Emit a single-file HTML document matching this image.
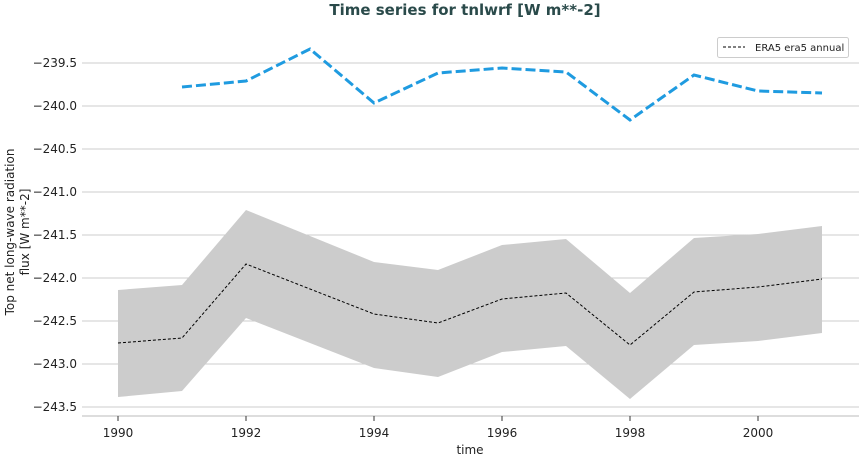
<!DOCTYPE html>
<html><head><style>body{margin:0;background:#fff}svg{display:block}text{font-family:"DejaVu Sans","Liberation Sans",sans-serif}</style></head><body>
<svg width="859" height="457" viewBox="0 0 859 457">
<text x="465" y="15" text-anchor="middle" font-size="15" font-weight="bold" fill="#2a4a4a">Time series for tnlwrf [W m**-2]</text>
<g stroke="#cccccc" stroke-width="1">
<line x1="82" x2="859" y1="63" y2="63"/><line x1="82" x2="859" y1="106" y2="106"/><line x1="82" x2="859" y1="149" y2="149"/><line x1="82" x2="859" y1="192" y2="192"/><line x1="82" x2="859" y1="235" y2="235"/><line x1="82" x2="859" y1="278" y2="278"/><line x1="82" x2="859" y1="321" y2="321"/><line x1="82" x2="859" y1="364" y2="364"/><line x1="82" x2="859" y1="407" y2="407"/>
</g>
<line x1="82" x2="859" y1="416" y2="416" stroke="#bbb" stroke-width="1"/>
<polygon fill="#cccccc" points="118,290 182,285 246,210 310,236 374,262 438,270 502,245 566,239 630,293 694,238 758,234 822,226 822,333 758,341 694,345 630,399 566,346 502,352 438,377 374,368 310,343 246,318 182,391 118,397"/>
<polyline fill="none" stroke="#000" stroke-width="1" stroke-dasharray="3,2" points="118,343 182,338 246,264 310,289 374,314 438,323 502,299 566,293 630,345 694,292 758,287 822,279"/>
<polyline fill="none" stroke="#1f9be0" stroke-width="3" stroke-dasharray="10,4" points="182,87 246,81 310,49 374,103 438,73 502,68 566,72 630,120 694,75 758,91 822,93"/>
<g font-size="12" fill="#222" text-anchor="end">
<text x="77" y="67">−239.5</text><text x="77" y="110">−240.0</text><text x="77" y="153">−240.5</text><text x="77" y="196">−241.0</text><text x="77" y="239">−241.5</text><text x="77" y="282">−242.0</text><text x="77" y="325">−242.5</text><text x="77" y="368">−243.0</text><text x="77" y="411">−243.5</text>
</g>
<g stroke="#333"><line x1="118" x2="118" y1="416" y2="421"/><line x1="246" x2="246" y1="416" y2="421"/><line x1="374" x2="374" y1="416" y2="421"/><line x1="502" x2="502" y1="416" y2="421"/><line x1="630" x2="630" y1="416" y2="421"/><line x1="758" x2="758" y1="416" y2="421"/></g>
<g font-size="12" fill="#222" text-anchor="middle">
<text x="118" y="437">1990</text><text x="246" y="437">1992</text><text x="374" y="437">1994</text><text x="502" y="437">1996</text><text x="630" y="437">1998</text><text x="758" y="437">2000</text>
<text x="470" y="454">time</text>
</g>
<text transform="translate(14,232) rotate(-90)" font-size="12" fill="#222" text-anchor="middle">Top net long-wave radiation</text>
<text transform="translate(29,232) rotate(-90)" font-size="12" fill="#222" text-anchor="middle">flux [W m**-2]</text>
<rect x="717.5" y="37.5" width="131" height="20" rx="2" fill="#fff" stroke="#ccc"/>
<line x1="723" x2="745" y1="47" y2="47" stroke="#000" stroke-dasharray="3,2"/>
<text x="755" y="51" font-size="10" fill="#222">ERA5 era5 annual</text>
</svg>
</body></html>
